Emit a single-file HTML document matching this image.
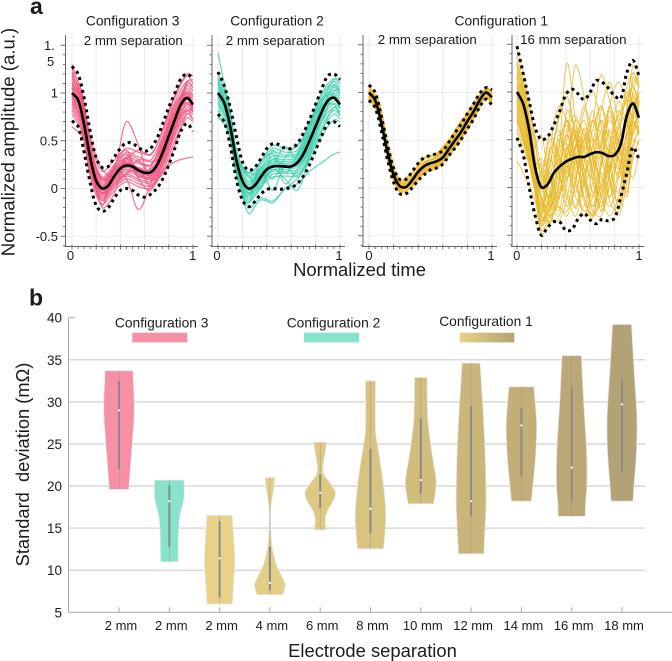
<!DOCTYPE html>
<html lang="en">
<head>
<meta charset="utf-8">
<title>Normalized amplitude and electrode separation chart</title>
<style>
html,body{margin:0;padding:0;background:#fff;width:672px;height:661px;overflow:hidden}
svg{display:block}
text{font-family:"Liberation Sans",sans-serif;fill:#1c1c1c}
</style>
</head>
<body>
<svg id="chart" xmlns="http://www.w3.org/2000/svg" width="672" height="661" viewBox="0 0 672 661">
<g id="panelA"></g>
<g id="panelB"></g>
<text x="30" y="14" font-size="23" font-weight="bold">a</text>
<text x="29" y="305.5" font-size="23" font-weight="bold">b</text>
<text x="132.7" y="25.3" font-size="13.8" text-anchor="middle">Configuration 3</text>
<text x="277" y="25.3" font-size="13.8" text-anchor="middle">Configuration 2</text>
<text x="501.3" y="25.3" font-size="13.8" text-anchor="middle">Configuration 1</text>
<text x="133.3" y="45" font-size="13.3" text-anchor="middle">2 mm separation</text>
<text x="275.3" y="45" font-size="13.3" text-anchor="middle">2 mm separation</text>
<text x="427.3" y="44" font-size="13.3" text-anchor="middle">2 mm separation</text>
<text x="573.3" y="44" font-size="13.3" text-anchor="middle">16 mm separation</text>
<text transform="translate(14.7,142) rotate(-90)" font-size="18.6" text-anchor="middle">Normalized amplitude (a.u.)</text>
<text x="359.5" y="276" font-size="18.4" text-anchor="middle">Normalized time</text>
<text transform="translate(29,464.5) rotate(-90)" font-size="18.3" text-anchor="middle">Standard&#160;&#160;deviation (mΩ)</text>
<text x="372.5" y="657" font-size="18.4" text-anchor="middle">Electrode separation</text>
<defs>
<linearGradient id="goldGrad" x1="0" x2="1" y1="0" y2="0"><stop offset="0" stop-color="#e9d287"/><stop offset="1" stop-color="#b3a273"/></linearGradient>
</defs>
<text x="161.7" y="327.7" font-size="13.8" text-anchor="middle">Configuration 3</text>
<rect x="132.3" y="332.7" width="55" height="9.7" fill="#f78fa5"/>
<text x="333.5" y="327.7" font-size="13.8" text-anchor="middle">Configuration 2</text>
<rect x="304" y="332.7" width="55" height="9.7" fill="#87e3cb"/>
<text x="486" y="326" font-size="13.8" text-anchor="middle">Configuration 1</text>
<rect x="459.7" y="332.7" width="54.6" height="9.7" fill="url(#goldGrad)"/>
</svg>
<script>
/* ---------- panel a data ---------- */
const envTimes = [0,.05,.1,.15,.2,.25,.3,.35,.4,.45,.5,.55,.6,.65,.7,.75,.8,.85,.9,.95,1];
const traceTimes = [0,.08,.16,.25,.35,.45,.55,.65,.75,.85,.95,1];
const wideTimes = [0,.07,.14,.2,.27,.34,.41,.48,.55,.62,.69,.76,.83,.9,.95,1];

const meanC3 = [1,.93,.67,.33,.08,0,.03,.13,.21,.24,.23,.19,.165,.17,.24,.38,.55,.72,.88,.95,.88];
const upperC3 = [1.28,1.2,.95,.6,.32,.22,.23,.33,.42,.48,.47,.43,.39,.42,.52,.68,.85,1,1.15,1.2,1.15];
const lowerC3 = [.71,.65,.38,.06,-.18,-.24,-.2,-.1,-.02,0,-.02,-.07,-.09,-.06,0,.1,.25,.42,.6,.68,.6];

const meanC2 = [1,.9,.65,.3,.08,0,.03,.12,.2,.23,.235,.23,.23,.27,.36,.5,.65,.8,.92,.95,.88];
const upperC2 = [1.22,1.08,.85,.55,.28,.19,.22,.31,.42,.47,.46,.42,.42,.47,.58,.72,.88,1.04,1.18,1.2,1.14];
const lowerC2 = [.78,.7,.45,.1,-.12,-.19,-.14,-.06,-.01,0,-.01,0,.01,.05,.13,.25,.4,.55,.68,.7,.65];

const meanC1a = [1,.92,.68,.38,.14,.02,.01,.08,.17,.23,.26,.28,.32,.41,.5,.59,.7,.8,.92,1,.95];
const upperC1a = [1.08,1,.75,.46,.21,.09,.09,.17,.26,.32,.34,.36,.39,.48,.58,.67,.78,.88,.99,1.05,1.03];
const lowerC1a = [.92,.84,.6,.3,.06,-.06,-.06,0,.08,.14,.19,.21,.25,.34,.42,.51,.62,.72,.85,.93,.87];

const meanC1b = [1,.88,.6,.2,0,.03,.15,.22,.27,.3,.32,.32,.35,.37,.36,.33,.34,.45,.75,.88,.73];
const upperC1b = [1.48,1.2,.9,.62,.5,.53,.65,.8,.97,1.03,.98,.92,1,1.12,1.1,1.04,.96,.93,1.2,1.33,1.17];
const lowerC1b = [.52,.35,0,-.3,-.5,-.42,-.36,-.36,-.45,-.44,-.33,-.27,-.34,-.38,-.33,-.35,-.32,-.1,.15,.42,.3];

const tracesC3 = [
[1.25,1.02,.45,.18,.3,.42,.38,.36,.6,.95,1.18,1.1],
[1.2,.98,.4,.12,.25,.38,.33,.3,.55,.9,1.12,1.05],
[1.15,.95,.38,.1,.22,.33,.28,.25,.5,.85,1.08,1.02],
[1.12,.92,.36,.08,.2,.3,.26,.24,.47,.82,1.05,.98],
[1.1,.9,.33,.06,.18,.28,.22,.2,.44,.8,1.02,.96],
[1.07,.87,.3,.04,.16,.27,.21,.18,.42,.77,1,.93],
[1.04,.84,.28,.02,.15,.26,.2,.17,.4,.75,.98,.9],
[1,.8,.26,0,.13,.25,.19,.16,.38,.72,.96,.88],
[.97,.77,.24,-.02,.11,.22,.17,.14,.35,.7,.93,.86],
[.94,.74,.22,-.04,.09,.2,.15,.12,.33,.67,.9,.84],
[.91,.72,.2,-.06,.07,.18,.13,.1,.3,.64,.88,.82],
[.88,.69,.17,-.08,.05,.15,.1,.08,.27,.61,.85,.8],
[.85,.66,.15,-.1,.03,.13,.08,.06,.25,.58,.82,.78],
[.82,.63,.12,-.13,.01,.1,.05,.03,.22,.55,.78,.73],
[.78,.6,.08,-.16,-.02,.07,.02,0,.18,.5,.74,.7],
[1.18,.9,.22,-.05,.2,.36,.15,.12,.48,.88,1,.85],
[.95,.85,.35,.1,.1,.16,.3,.28,.35,.62,1.1,1.08],
[1.05,.78,.18,-.12,.15,.32,.12,.22,.52,.78,.9,.8],
[.65,.55,.35,.1,.2,.7,.45,.1,.15,.45,.8,.85],
[1.1,.85,.3,.02,.2,.1,-.22,.05,.35,.7,.95,.85],
[.9,.75,.25,-.05,.05,.15,.2,.02,.19,.28,.32,.33],
[1.3,.98,.5,.2,.12,.3,.4,.35,.62,.98,1.2,1.18],
[1.22,.94,.32,-.2,-.05,.34,.3,.14,.4,.74,1.12,1.14],
[.98,.7,.2,-.18,.24,.4,.1,-.02,.3,.66,.82,.72]
];
const tracesC2 = [
[1.42,.9,.25,-.05,.1,.3,.25,.25,.5,.85,.95,.85],
[.78,.6,.15,-.2,-.1,-.13,0,.1,.3,.55,.72,.7],
[.75,.62,.2,-.26,-.12,-.15,0,.05,.18,.27,.36,.38],
[.9,.7,.18,-.12,0,.2,.1,-.02,.33,.6,.85,.8],
[1.2,.95,.36,.16,.28,.45,.42,.44,.7,1,1.15,1.1],
[1.16,.92,.34,.13,.25,.42,.38,.4,.66,.97,1.12,1.06],
[1.12,.9,.32,.11,.22,.38,.35,.37,.63,.93,1.09,1.03],
[1.09,.87,.29,.08,.2,.34,.33,.35,.6,.9,1.06,1],
[1.06,.85,.27,.06,.18,.31,.3,.33,.57,.87,1.03,.97],
[1.03,.83,.25,.04,.16,.28,.28,.31,.54,.84,1,.94],
[1,.8,.22,.02,.14,.26,.26,.29,.52,.82,.97,.91],
[.98,.78,.2,0,.12,.24,.24,.27,.5,.79,.95,.88],
[.95,.76,.18,-.02,.1,.22,.22,.25,.47,.76,.92,.86],
[.92,.73,.16,-.04,.08,.2,.2,.23,.44,.73,.89,.83],
[.89,.7,.14,-.07,.06,.18,.18,.2,.41,.7,.85,.8],
[.86,.67,.12,-.1,.04,.15,.16,.17,.38,.66,.82,.77],
[.82,.64,.09,-.14,.02,.12,.13,.14,.34,.62,.78,.73],
[1.1,.78,.3,.17,.15,.24,.44,.3,.62,.94,.98,.84],
[.94,.85,.12,-.08,.28,.36,.05,.2,.42,.9,1.14,1.16],
[1.14,.8,.16,-.15,.22,.1,.32,.46,.55,.7,1.02,1.04],
[1.02,.72,.28,.14,0,.4,.16,.36,.68,.86,.88,.76],
[.96,.9,.2,-.05,.18,-.02,.24,.12,.36,.78,1.08,1]
];
const tracesC1a = [
[1.06,.9,.4,.08,.16,.31,.36,.5,.68,.88,1.04,1.02],
[1.03,.87,.37,.05,.12,.27,.32,.46,.64,.84,1.02,.98],
[1,.84,.34,.03,.09,.24,.29,.42,.6,.81,1.01,.96],
[.98,.81,.31,.01,.07,.21,.26,.39,.57,.78,.99,.94],
[.96,.78,.29,-.01,.05,.18,.23,.36,.54,.75,.97,.91],
[.94,.76,.27,-.04,.02,.16,.21,.34,.52,.73,.95,.88],
[1.02,.83,.3,-.02,.1,.26,.33,.48,.7,.82,.98,.92],
[.97,.8,.36,.06,.06,.2,.24,.38,.53,.8,1.03,1]
];
const tracesC1b = [
[1.45,1.1,.6,.2,-.1,.35,1.3,.7,.1,-.2,0,.2,.5,.7,.9,.95],
[1.38,1.02,.55,.05,-.2,0,.5,1.28,.95,.3,.1,-.1,.15,.6,1.1,1.15],
[1.3,.95,.4,-.05,.25,.7,.95,.5,.1,-.1,.3,.85,1.1,.9,.7,.6],
[1.25,.9,.35,-.15,-.3,-.1,.35,.6,.4,.7,1.18,.9,.5,.4,.8,1],
[1.2,.85,.3,-.2,.1,.5,.3,-.1,-.2,.2,.7,.5,.1,.5,1,1.2],
[1.15,.85,.25,-.25,-.1,.2,.6,.75,.4,-.05,-.2,.15,.65,1.05,1.2,1.05],
[1.1,.8,.2,-.3,-.35,-.1,.1,.4,.8,1,.65,.1,-.15,.3,.75,.9],
[1.1,.75,.3,0,.4,.85,.7,.3,.05,.3,.8,1.1,.7,.35,.55,.7],
[1.05,.7,.15,-.1,-.25,.15,.55,.3,-.1,-.3,-.05,.45,.75,.9,1.05,.9],
[1,.7,.25,.1,.5,.3,-.05,-.2,.25,.7,.55,.2,.4,.8,.85,.8],
[.98,.65,.2,-.2,-.3,-.15,.3,.7,.55,.15,-.1,.4,.9,.7,.65,.75],
[.95,.6,.1,-.35,-.2,.25,.7,.5,.3,.5,.35,-.15,-.25,.15,.6,.8],
[.92,.6,.25,.3,.1,-.2,-.25,.1,.55,.35,0,-.2,.1,.85,1.2,1.1],
[.88,.55,.1,-.4,-.15,.4,.45,.05,-.25,-.1,.4,.7,.45,.1,.4,.65],
[.85,.55,.2,.05,.35,.6,.2,.1,.5,.7,.4,.1,-.15,.3,.85,.95],
[.82,.5,.05,-.45,-.3,-.05,.2,.65,.3,.1,.5,.8,.45,.2,.7,1.1],
[.8,.5,.15,-.1,-.3,-.35,-.1,.25,.15,.6,.85,.4,.2,.55,.7,.55],
[.75,.45,.05,-.3,.2,.75,.95,.55,.1,-.2,.05,.4,.6,.95,1.05,.85],
[.7,.45,.1,.15,.55,.35,.15,.45,.85,.5,-.1,-.3,-.1,.4,.5,.45],
[.68,.4,0,-.4,-.25,.1,-.1,-.3,.05,.45,.85,.55,.25,-.05,.3,.5],
[.62,.4,.15,.25,-.05,-.25,.2,.5,.2,-.25,-.3,.05,.35,.8,1.28,1.2],
[.58,.35,.05,-.5,-.35,-.2,-.3,.05,.5,.25,.45,.85,.55,.25,.1,.35],
[.28,.1,-.1,-.35,-.05,.45,.65,.15,-.3,.05,.6,.3,-.2,.2,.75,.7],
[1.32,.98,.42,.55,.05,.3,.1,.42,.7,.18,-.25,0,.3,.75,.95,.85],
[1.2,.9,.5,.12,-.15,-.3,.05,.55,.2,-.2,.25,.75,.35,-.05,.45,.6],
[1.08,.72,.12,-.28,.3,.1,.8,.55,-.1,-.32,.15,-.1,.45,1,.9,.55],
[.9,.62,.22,-.12,-.38,.05,.55,.2,.62,.3,-.25,.2,.8,.65,.55,.9],
[.78,.48,.08,-.22,.15,-.12,.42,-.05,.42,.8,.3,.05,-.3,.05,.6,.75],
[1.02,.68,.28,.2,-.18,.55,.28,-.22,.1,.4,.7,.2,-.05,.4,.98,.78],
[1.16,.78,.18,-.38,-.08,.45,.7,.35,-.15,-.28,.2,.6,.3,.22,.7,1],
[.72,.42,.02,-.18,.42,.18,-.2,.3,.6,.08,-.2,.25,.15,.62,1.15,1.05],
[1.28,.92,.32,-.32,-.22,.02,.4,.6,.05,-.3,-.12,.35,.5,-.1,.35,.4]
];

/* ---------- panel b data ---------- */
const separationLabels = ["2 mm","2 mm","2 mm","4 mm","6 mm","8 mm","10 mm","12 mm","14 mm","16 mm","18 mm"];
const deviationTicks = [5,10,15,20,25,30,35,40];
const violinMedian = [29,18.2,11.4,8.5,19.2,17.3,20.7,18.2,27.2,22.2,29.7];
const violinQ1 = [22,12.8,6.8,7.6,17.4,14.4,19.1,16.4,21.2,18.2,21.8];
const violinQ3 = [32.5,20.1,15.8,12.8,21.4,24.4,28,29.5,29.3,31.8,32.7];
const violinLevels = [
[33.7,32,30,28,26,24,22,20,19.6],
[20.7,19.5,18.5,17,16,14,12,11],
[16.5,14,11,8.5,6],
[21,20,18,17,15,13,12,10.5,9,8.2,7.5,7.1],
[25.2,24,22.5,21.5,20.5,19.5,19,18,17,16,15.2,14.8],
[32.5,26.5,24.9,20.1,16.15,12.55],
[32.9,28,24,20.8,19.6,17.9],
[34.6,30,24,18,15.2,11.95],
[31.8,27.2,23.2,20,18.2],
[35.5,30,24,20,18,16.4],
[39.2,34,28,24,20,18.2]
];
const violinDensity = [
[14,14.5,15.3,15,13.8,12.6,11.3,10,10],
[14.7,14.9,14.7,11.5,10,9,8.8,8.7],
[12.7,14,15.2,14,12.7],
[4.7,4,1.5,.7,.7,2,3.5,7,13,15.5,14,13],
[6.3,5,3,3,9,14.5,15.3,12,7,5,5.7,6],
[5,5,7,13,15.3,13],
[6.2,7,11,15.3,15,12.7],
[9,11.5,14,15,14,12.7],
[12.5,15.3,14,11.5,10],
[9.7,12,15,15.2,14,13.5],
[9.5,12,15,14.5,12,11]
];
const violinColors = ["#f78fa5","#87e3cb","#e9d287","#e3ce85","#dfc981","#d8c480","#d1bd7c","#cab67a","#c3ae78","#bba876","#b3a273"];

/* ---------- layout & axis functions ---------- */
const NS = "http://www.w3.org/2000/svg";
const panelA = document.getElementById("panelA");
const panelB = document.getElementById("panelB");

function make(tag, parent, attrs){
  const e = document.createElementNS(NS, tag);
  for (const k in attrs) e.setAttribute(k, attrs[k]);
  parent.appendChild(e);
  return e;
}
function curvePath(pts, start){
  let d = start ? "M" + pts[0][0].toFixed(2) + " " + pts[0][1].toFixed(2) : "";
  const dist = function(a,b){ return Math.hypot(a[0]-b[0], a[1]-b[1]) || 0.001; };
  const slope = function(i){
    const a = pts[Math.max(i-1,0)], b = pts[Math.min(i+1,pts.length-1)];
    const len = dist(a,pts[i]) + dist(pts[i],b);
    return [(b[0]-a[0])/len, (b[1]-a[1])/len];
  };
  for (let i = 0; i < pts.length - 1; i++){
    const p1 = pts[i], p2 = pts[i+1], h = dist(p1,p2)/3;
    const m1 = slope(i), m2 = slope(i+1);
    d += "C" + (p1[0]+m1[0]*h).toFixed(2) + " " + (p1[1]+m1[1]*h).toFixed(2) + " " + (p2[0]-m2[0]*h).toFixed(2) + " " + (p2[1]-m2[1]*h).toFixed(2) + " " + p2[0].toFixed(2) + " " + p2[1].toFixed(2);
  }
  return d;
}

const panels = [
 {key:"config-3", axisX:65.5, x0:72, x1:193, y1:93, y0:188.5, lx0:70.5, lx1:192.7, color:"#f0557f", tw:1.25, op:.8, traceT:traceTimes, traces:tracesC3, mean:meanC3, upper:upperC3, lower:lowerC3, yLabels:true},
 {key:"config-2", axisX:212, x0:218, x1:340, y1:93, y0:188.5, lx0:217, lx1:339, color:"#3fd0ae", tw:1.25, op:.8, traceT:traceTimes, traces:tracesC2, mean:meanC2, upper:upperC2, lower:lowerC2},
 {key:"config-1-2mm", axisX:363, x0:369, x1:492, y1:92.5, y0:188, lx0:369, lx1:491, color:"#ecbc2e", tw:2.2, op:.9, traceT:traceTimes, traces:tracesC1a, mean:meanC1a, upper:upperC1a, lower:lowerC1a},
 {key:"config-1-16mm", axisX:512, x0:517, x1:639, y1:92, y0:187.5, lx0:516.7, lx1:639, color:"#e8b828", tw:.9, op:.85, traceT:wideTimes, traces:tracesC1b, mean:meanC1b, upper:upperC1b, lower:lowerC1b}
];
const axisTop = 35, axisBottom = 246.5, AXC = "#666";

panels.forEach(function(p){
  const sx = function(t){ return p.x0 + t*(p.x1-p.x0); };
  const sy = function(v){ return p.y0 + v*(p.y1-p.y0); };
  const g = make("g", panelA, {});
  
  

  [0,.2,.4,.6,.8,1].forEach(function(t){
    const l = make("line", g, {x1:sx(t), x2:sx(t), y1:axisTop, y2:axisBottom, stroke:"#ebebeb", "stroke-width":1});
    
    
  });
  [-.5,0,.5,1,1.5].forEach(function(v){
    const l = make("line", g, {x1:p.axisX, x2:p.x1+5, y1:sy(v), y2:sy(v), stroke:"#ebebeb", "stroke-width":1});
    
    
  });

  const ya = make("line", g, {x1:p.axisX, x2:p.axisX, y1:axisTop, y2:axisBottom, stroke:AXC, "stroke-width":1});
  
  
  const xa = make("line", g, {x1:p.axisX-1, x2:p.x1+5, y1:axisBottom, y2:axisBottom, stroke:AXC, "stroke-width":1});
  
  

  for (let n = -6; n <= 15; n++){
    const major = n % 5 === 0;
    const t = make("line", g, {x1:p.axisX-(major?5:2.5), x2:p.axisX, y1:sy(n/10), y2:sy(n/10), stroke:AXC, "stroke-width":.9});
    
    
  }
  for (let n = 0; n <= 20; n++){
    const major = n % 4 === 0;
    const t = make("line", g, {x1:sx(n/20), x2:sx(n/20), y1:axisBottom-(major?2:0), y2:axisBottom+(major?3:2.5), stroke:AXC, "stroke-width":.9});
    
    
  }

  p.traces.forEach(function(tr){
    const pts = tr.map(function(v,i){ return [sx(p.traceT[i]), sy(v)]; });
    const path = make("path", g, {d:curvePath(pts,true), fill:"none", stroke:p.color, "stroke-width":p.tw, "stroke-opacity":p.op});
    
    
  });

  const envPts = function(arr){ return arr.map(function(v,i){ return [sx(envTimes[i]), sy(v)]; }); };
  const up = make("path", g, {d:curvePath(envPts(p.upper),true), fill:"none", stroke:"#000", "stroke-width":3, "stroke-dasharray":"3 3.6"});
  
  
  const lo = make("path", g, {d:curvePath(envPts(p.lower),true), fill:"none", stroke:"#000", "stroke-width":3, "stroke-dasharray":"3 3.6"});
  
  
  const me = make("path", g, {d:curvePath(envPts(p.mean),true), fill:"none", stroke:"#000", "stroke-width":2.6});
  
  

  [[p.lx0,"0"],[p.lx1,"1"]].forEach(function(o){
    const tx = make("text", g, {x:o[0], y:260, "font-size":13, "text-anchor":"middle"});
    tx.textContent = o[1];
    
    
  });

  if (p.yLabels){
    [["-0.5",-.5],["0",0],["0.5",.5],["1",1]].forEach(function(o){
      const tx = make("text", g, {x:58, y:sy(o[1])+4.5, "font-size":13, "text-anchor":"end"});
      tx.textContent = o[0];
      
      
    });
    const a = make("text", g, {x:44, y:50, "font-size":13});
    a.textContent = "1.";
    
    
    const b = make("text", g, {x:47, y:66, "font-size":13});
    b.textContent = "5";
    
    
  }
});

/* ---------- panel b ---------- */
const catX = function(i){ return 119 + 50.3*i; };
const devY = function(v){ return 612.3 - (v-5)*8.417; };

deviationTicks.forEach(function(v){
  const isGrid = v > 5 && v < 40;
  if (isGrid){
    const l = make("line", panelB, {x1:68.5, x2:645, y1:devY(v), y2:devY(v), stroke:"#d9d9d9", "stroke-width":1.5});
    
    
  }
  const tx = make("text", panelB, {x:62, y:devY(v)+5, "font-size":13.5, "text-anchor":"end"});
  tx.textContent = v;
  
  
});
const topTick = make("line", panelB, {x1:68.5, x2:75, y1:devY(40), y2:devY(40), stroke:"#b0b0b0", "stroke-width":1});


const yAxisB = make("line", panelB, {x1:68.5, x2:68.5, y1:devY(40), y2:devY(5), stroke:"#aaa", "stroke-width":1});


const xAxisB = make("line", panelB, {x1:68.5, x2:672, y1:devY(5), y2:devY(5), stroke:"#aaa", "stroke-width":1});



separationLabels.forEach(function(label,i){
  const cx = catX(i);
  const tick = make("line", panelB, {x1:cx, x2:cx, y1:devY(5)-5, y2:devY(5), stroke:"#aaa", "stroke-width":1});
  
  
  const tx = make("text", panelB, {x:cx+2, y:630, "font-size":13, "text-anchor":"middle"});
  tx.textContent = label;
  
  

  const lv = violinLevels[i], ds = violinDensity[i];
  const right = lv.map(function(v,k){ return [cx+ds[k], devY(v)]; });
  const left = lv.map(function(v,k){ return [cx-ds[k], devY(v)]; }).reverse();
  const d = curvePath(right,true) + "L" + left[0][0].toFixed(2) + " " + left[0][1].toFixed(2) + curvePath(left,false) + "Z";
  const vg = make("g", panelB, {});
  
  
  const body = make("path", vg, {d:d, fill:violinColors[i], stroke:"#e6e6e6", "stroke-width":.8});
  
  
  const rng = make("line", vg, {x1:cx, x2:cx, y1:devY(lv[0]), y2:devY(lv[lv.length-1]), stroke:"#9a9a9a", "stroke-opacity":.7, "stroke-width":.7});
  
  
  const box = make("line", vg, {x1:cx, x2:cx, y1:devY(violinQ3[i]), y2:devY(violinQ1[i]), stroke:"#8a8a8a", "stroke-width":2});
  
  
  const med = make("circle", vg, {cx:cx, cy:devY(violinMedian[i]), r:1.1, fill:"#fff"});
  
  
});
</script>
</body>
</html>
